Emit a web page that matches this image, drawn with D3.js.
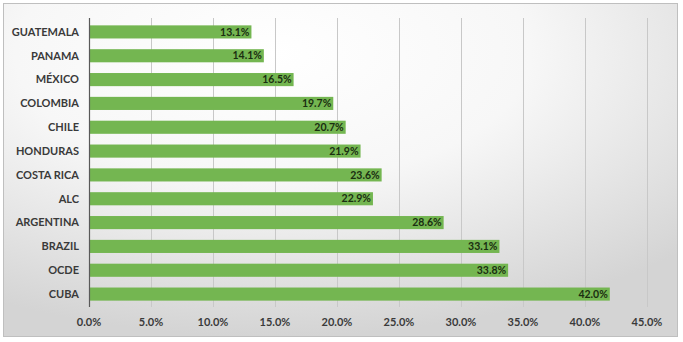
<!DOCTYPE html>
<html><head><meta charset="utf-8">
<script src="https://cdn.jsdelivr.net/npm/d3@7"></script>
<style>body{margin:0;background:#fff}svg{display:block}</style>
</head><body>
<svg id="c" width="683" height="342"></svg>
<script>
const categories = ["GUATEMALA","PANAMA","MÉXICO","COLOMBIA","CHILE","HONDURAS","COSTA RICA","ALC","ARGENTINA","BRAZIL","OCDE","CUBA"];
const values = [13.1,14.1,16.5,19.7,20.7,21.9,23.6,22.9,28.6,33.1,33.8,42.0];
const xTicks = [0,5,10,15,20,25,30,35,40,45];

const svg = d3.select("#c");
const defs = svg.append("defs");
const rg = defs.append("radialGradient").attr("id","bg").attr("cx","0.4").attr("cy","0.15").attr("r","0.85");
rg.append("stop").attr("offset","0").attr("stop-color","#ffffff");
rg.append("stop").attr("offset","0.45").attr("stop-color","#f7f7f7");
rg.append("stop").attr("offset","1").attr("stop-color","#d4d4d4");

svg.append("rect").attr("x",3.5).attr("y",3.5).attr("width",674).attr("height",333)
  .attr("fill","url(#bg)").attr("stroke","#bfbfbf").attr("stroke-width",1);

const x = d3.scaleLinear().domain([0,45]).range([89,647]);
const y = d3.scaleBand().domain(categories).range([20,306]).paddingInner(0.45).paddingOuter(0.225);

// gridlines
svg.append("g").selectAll("line").data(xTicks.slice(1)).join("line")
  .attr("x1",d=>x(d)+0.5).attr("x2",d=>x(d)+0.5).attr("y1",18).attr("y2",307)
  .attr("stroke","#c8c8c8").attr("stroke-width",1);

// bars
svg.append("g").selectAll("rect").data(values).join("rect")
  .attr("x",x(0)).attr("y",(d,i)=>y(categories[i]))
  .attr("width",d=>x(d)-x(0)).attr("height",y.bandwidth())
  .attr("fill","#74b651");

// value labels
svg.append("g").selectAll("text").data(values).join("text")
  .attr("x",d=>x(d)-2).attr("y",(d,i)=>y(categories[i])+y.bandwidth()/2)
  .attr("dy","0.35em").attr("text-anchor","end")
  .attr("font-family","Lato, sans-serif").attr("font-weight","bold").attr("font-size","10.5px")
  .attr("fill","#1a2e10").text(d=>d.toFixed(1)+"%");

// y axis line
svg.append("line").attr("x1",89.5).attr("x2",89.5).attr("y1",18).attr("y2",307)
  .attr("stroke","#595959").attr("stroke-width",1.2);

// category labels
svg.append("g").selectAll("text").data(categories).join("text")
  .attr("x",79).attr("y",d=>y(d)+y.bandwidth()/2).attr("dy","0.35em")
  .attr("text-anchor","end").attr("font-family","Lato, sans-serif").attr("font-weight","bold")
  .attr("font-size","11px").attr("fill","#3a3a3a").text(d=>d);

// x tick labels
svg.append("g").selectAll("text").data(xTicks).join("text")
  .attr("x",d=>x(d)).attr("y",322).attr("dy","0.35em").attr("text-anchor","middle")
  .attr("font-family","Lato, sans-serif").attr("font-weight","bold").attr("font-size","11px")
  .attr("fill","#3a3a3a").text(d=>d.toFixed(1)+"%");
</script>
</body></html>
